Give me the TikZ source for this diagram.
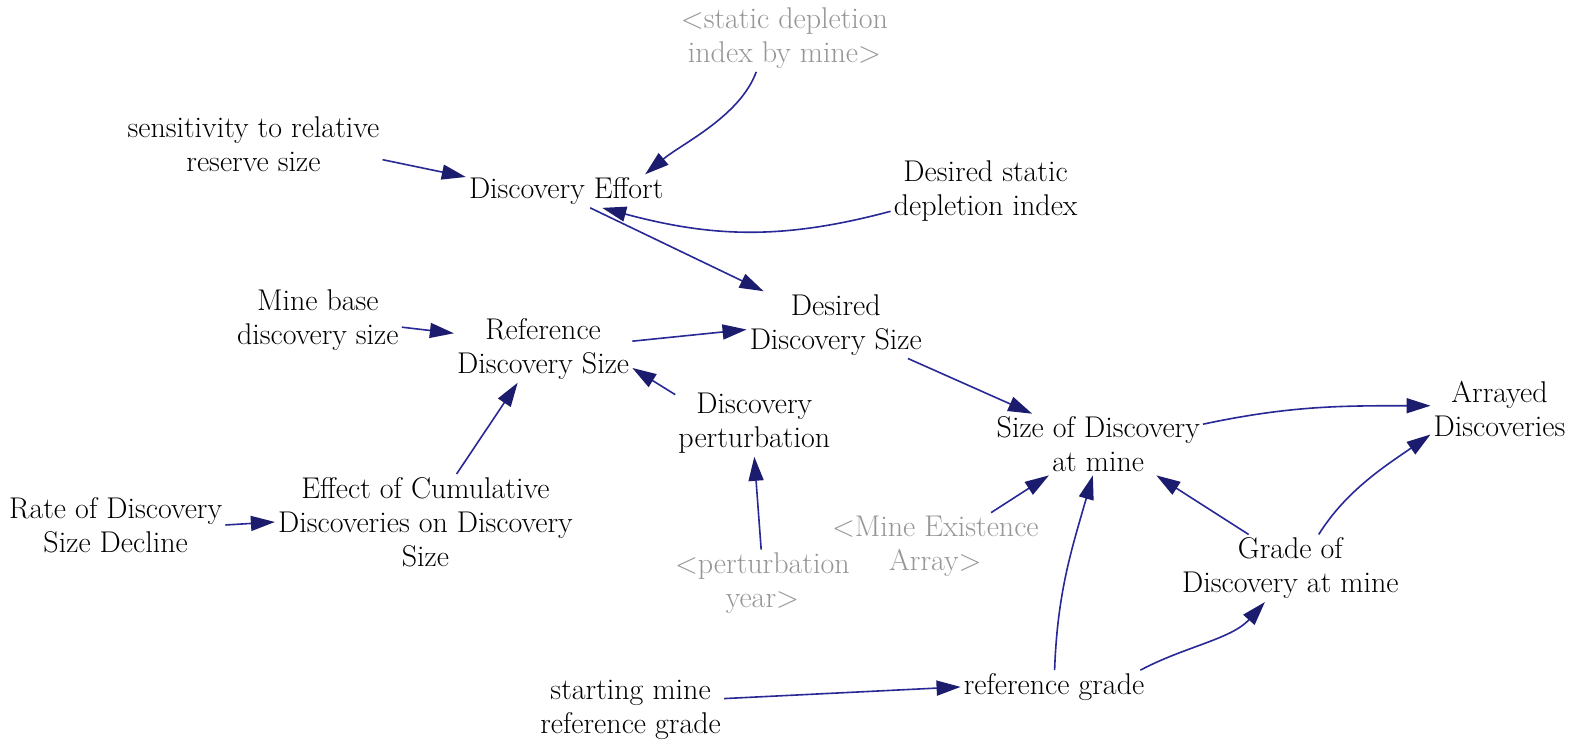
\documentclass[tikz,border=0pt]{standalone}
\usetikzlibrary{arrows.meta}
\definecolor{navy}{RGB}{40,40,150}
\definecolor{navydark}{RGB}{28,28,110}
\definecolor{greytext}{RGB}{150,150,150}
\begin{document}
\begin{tikzpicture}[x=1.0057pt,y=1.0057pt,
 var/.style={align=center, inner sep=3pt, font=\fontsize{30}{34}\selectfont, text=black},
 ghostvar/.style={var, text=greytext},
 link/.style={draw=navy, line width=1.6pt, -{Triangle[length=24pt,width=15pt,color=navydark]}},
]
\fill[white] (0,0) rectangle (1568,-738);
\useasboundingbox (0,0) rectangle (1568,-738);

\node[ghostvar] (SDI) at (780,-38) {<static depletion\\index by mine>};
\node[var] (SENS) at (252,-143) {sensitivity to relative\\reserve size};
\node[var] (DE) at (563,-190) {Discovery Effort};
\node[var] (DSDI) at (980,-190) {Desired static\\depletion index};
\node[var] (MBDS) at (316,-318) {Mine base\\discovery size};
\node[var] (RDS) at (540,-347) {Reference\\Discovery Size};
\node[var] (DDS) at (831,-323) {Desired\\Discovery Size};
\node[var] (DP) at (750,-421) {Discovery\\perturbation};
\node[var] (SDM) at (1092,-442) {Size of Discovery\\at mine};
\node[var] (AD) at (1491,-407) {Arrayed\\Discoveries};
\node[var] (RDSD) at (115,-522) {Rate of Discovery\\Size Decline};
\node[var] (ECD) at (423,-519) {Effect of Cumulative\\Discoveries on Discovery\\Size};
\node[ghostvar] (MEA) at (930,-543) {<Mine Existence\\Array>};
\node[ghostvar] (PY) at (758,-580) {<perturbation\\year>};
\node[var] (GDM) at (1283,-565) {Grade of\\Discovery at mine};
\node[var] (SMRG) at (627,-706) {starting mine\\reference grade};
\node[var] (RG) at (1048,-683) {reference grade};

\draw[link] (SDI.230) to[out=-110,in=40,looseness=0.8] (DE.12);
\draw[link] (SENS.-7) -- (DE.172);
\draw[link] (DSDI.192) to[out=195,in=-15] (DE.-25);
\draw[link] (DE.-35) -- (DDS.155);
\draw[link] (MBDS.-5) -- (RDS.170);
\draw[link] (RDS.5) -- (DDS.183);
\draw[link] (DP.160) -- (RDS.-12);
\draw[link] (ECD.57) -- (RDS.-127);
\draw[link] (RDSD.0) -- (ECD.180);
\draw[link] (PY.92) -- (DP.-90);
\draw[link] (DDS.-25) -- (SDM.155);
\draw[link] (SDM.11) to[out=12,in=180] (AD.177);
\draw[link] (GDM.50) to[out=58,in=215,looseness=0.9] (AD.200);
\draw[link] (MEA.31) -- (SDM.-148);
\draw[link] (RG.88) to[out=88,in=-106] (SDM.-100);
\draw[link] (GDM.141) -- (SDM.-28);
\draw[link] (RG.11) to[out=28,in=-132,looseness=0.9] (GDM.-127);
\draw[link] (SMRG.7) -- (RG.180);
\end{tikzpicture}
\end{document}
